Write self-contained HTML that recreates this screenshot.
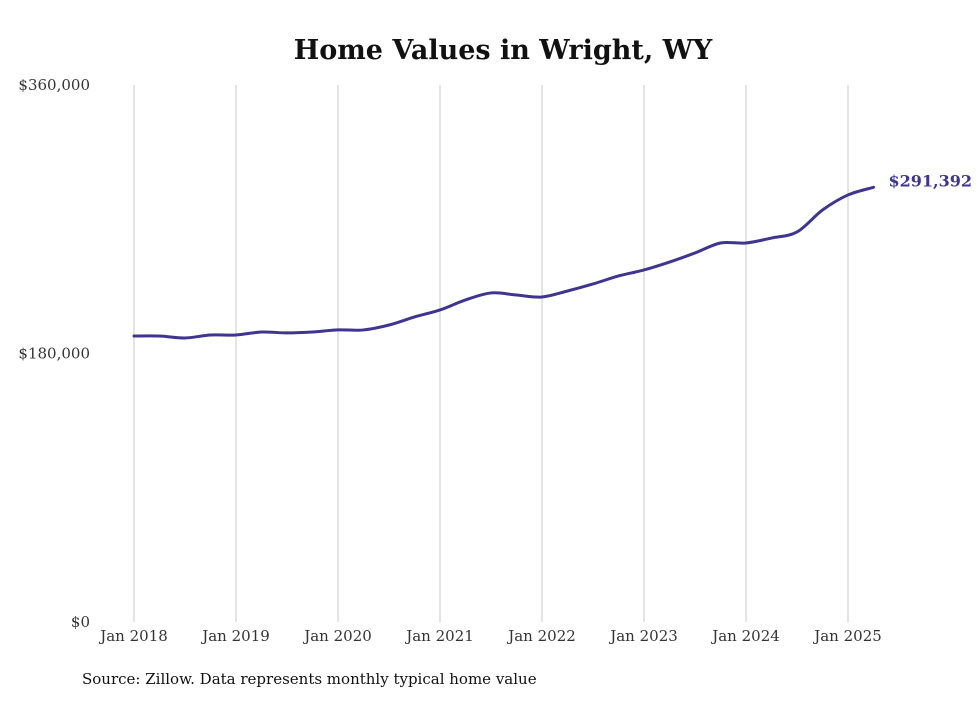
<!DOCTYPE html>
<html><head><meta charset="utf-8"><style>
body{margin:0;background:#fff;}
svg text{font-family:"DejaVu Serif","Liberation Serif",serif;}
</style></head><body>
<svg width="980" height="699" xmlns="http://www.w3.org/2000/svg">
<rect width="980" height="699" fill="#fff"/>
<text x="503" y="59" text-anchor="middle" font-size="27" font-weight="bold" fill="#111">Home Values in Wright, WY</text>
<g id="grid"></g><g id="yaxis"></g><g id="xaxis"></g><g id="series"></g>
<text x="82" y="684" font-size="15" fill="#111">Source: Zillow. Data represents monthly typical home value</text>
</svg>
<script>
const dates = [2018,2018.25,2018.5,2018.75,2019,2019.25,2019.5,2019.75,2020,2020.25,2020.5,2020.75,2021,2021.25,2021.5,2021.75,2022,2022.25,2022.5,2022.75,2023,2023.25,2023.5,2023.75,2024,2024.25,2024.5,2024.75,2025,2025.25];
const values = [191700,191700,190400,192400,192400,194400,193800,194400,195800,195800,199100,204500,209200,215900,220600,219200,217900,221900,226600,232000,236000,241300,247400,254100,254100,257400,261500,276200,286300,291392];
const yTicks = [0,180000,360000];
const yTickLabels = ["$0","$180,000","$360,000"];
const xTicks = [2018,2019,2020,2021,2022,2023,2024,2025];
const xTickLabels = ["Jan 2018","Jan 2019","Jan 2020","Jan 2021","Jan 2022","Jan 2023","Jan 2024","Jan 2025"];
const NS="http://www.w3.org/2000/svg";
const xS=d=>134+(d-2018)*102;
const yS=v=>622-v/360000*537;
function mk(t,a,p){const e=document.createElementNS(NS,t);for(const k in a)e.setAttribute(k,a[k]);p.appendChild(e);return e;}
const grid=document.getElementById('grid'),ya=document.getElementById('yaxis'),xa=document.getElementById('xaxis'),se=document.getElementById('series');
xTicks.forEach((d,i)=>{
 const l=mk('line',{x1:xS(d),x2:xS(d),y1:85,y2:622,stroke:'#c8c8c8','stroke-width':1},grid);
 
 
 const t=mk('text',{x:xS(d),y:641,'text-anchor':'middle','font-size':15,fill:'#333'},xa);
 t.textContent=xTickLabels[i];
 
 
});
yTicks.forEach((v,i)=>{
 const t=mk('text',{x:90,y:yS(v)+5,'text-anchor':'end','font-size':15,fill:'#333'},ya);
 t.textContent=yTickLabels[i];
 
 
});
const pts=dates.map((d,i)=>[xS(d),yS(values[i])]);
let p='M'+pts[0][0]+','+pts[0][1];
for(let i=0;i<pts.length-1;i++){
 const p0=pts[Math.max(0,i-1)],p1=pts[i],p2=pts[i+1],p3=pts[Math.min(pts.length-1,i+2)];
 const c1=[p1[0]+(p2[0]-p0[0])/6,p1[1]+(p2[1]-p0[1])/6],c2=[p2[0]-(p3[0]-p1[0])/6,p2[1]-(p3[1]-p1[1])/6];
 p+=` C${c1[0]},${c1[1]} ${c2[0]},${c2[1]} ${p2[0]},${p2[1]}`;
}
const path=mk('path',{d:p,fill:'none',stroke:'#3f3590','stroke-width':3,'stroke-linejoin':'round','stroke-linecap':'round'},se);


const last=pts[pts.length-1];
const lab=mk('text',{x:last[0]+15,y:last[1]-1,'font-size':16,'font-weight':'bold',fill:'#3f3590'},se);
lab.textContent='$'+values[values.length-1].toLocaleString('en-US');


</script>
</body></html>
